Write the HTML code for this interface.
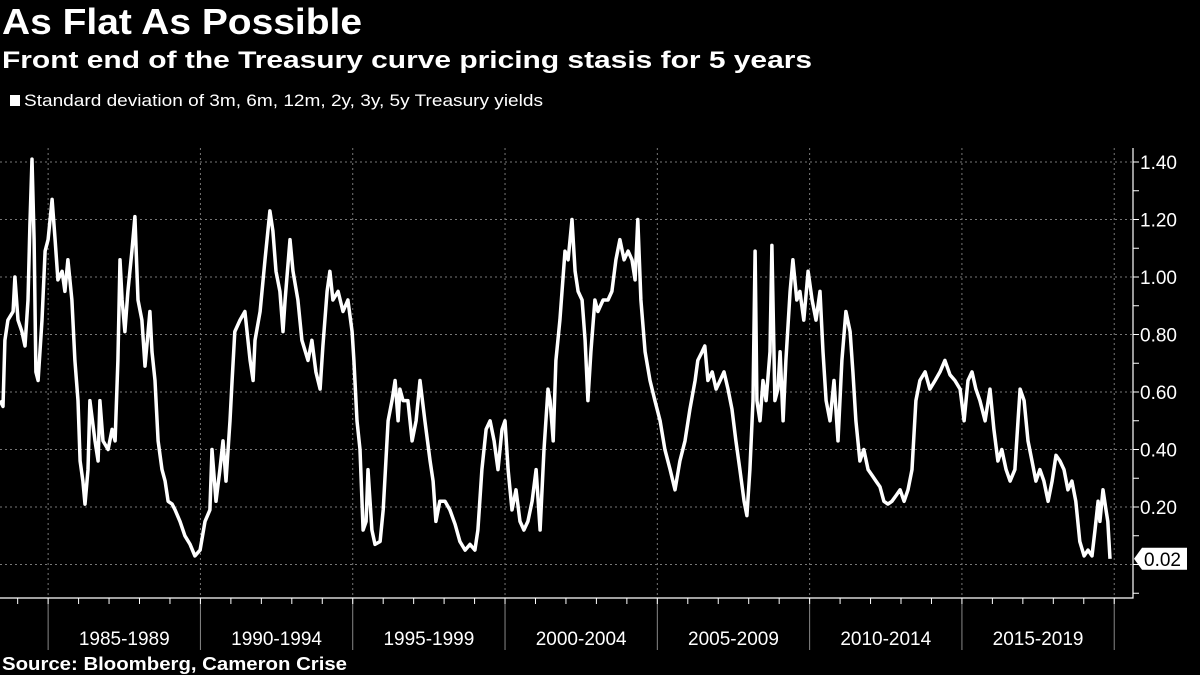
<!DOCTYPE html>
<html><head><meta charset="utf-8"><style>
html,body{margin:0;padding:0;background:#000;width:1200px;height:675px;overflow:hidden}
svg{display:block}
text{font-family:"Liberation Sans",sans-serif;fill:#fff}
</style></head><body>
<svg id="chart" width="1200" height="675">
<text x="2" y="34" font-size="36" font-weight="bold" textLength="360" lengthAdjust="spacingAndGlyphs">As Flat As Possible</text>
<text x="2" y="68" font-size="24" font-weight="bold" textLength="810" lengthAdjust="spacingAndGlyphs">Front end of the Treasury curve pricing stasis for 5 years</text>
<rect x="10" y="95" width="10" height="11" fill="#fff"/>
<text x="24" y="106" font-size="17" textLength="519" lengthAdjust="spacingAndGlyphs">Standard deviation of 3m, 6m, 12m, 2y, 3y, 5y Treasury yields</text>
<g id="grid"></g><g id="axes"></g><g id="series"></g>
<text x="2" y="670" font-size="18" font-weight="bold" textLength="345" lengthAdjust="spacingAndGlyphs">Source: Bloomberg, Cameron Crise</text>
</svg>
<script>
const dates=[1983.42,1983.52,1983.58,1983.68,1983.85,1983.91,1984.01,1984.14,1984.24,1984.34,1984.40,1984.47,1984.54,1984.60,1984.67,1984.80,1984.90,1985.00,1985.13,1985.23,1985.32,1985.46,1985.55,1985.65,1985.78,1985.88,1985.98,1986.05,1986.14,1986.21,1986.31,1986.37,1986.54,1986.64,1986.70,1986.80,1986.97,1987.10,1987.20,1987.29,1987.36,1987.43,1987.52,1987.62,1987.75,1987.85,1987.95,1988.08,1988.18,1988.34,1988.41,1988.51,1988.61,1988.74,1988.84,1988.94,1989.07,1989.17,1989.33,1989.49,1989.66,1989.82,1989.99,1990.15,1990.31,1990.38,1990.51,1990.64,1990.74,1990.84,1990.97,1991.04,1991.13,1991.30,1991.46,1991.63,1991.73,1991.79,1991.96,1992.12,1992.28,1992.38,1992.48,1992.61,1992.71,1992.78,1992.94,1993.04,1993.20,1993.33,1993.53,1993.66,1993.79,1993.93,1994.02,1994.16,1994.25,1994.35,1994.52,1994.68,1994.84,1994.98,1995.04,1995.14,1995.24,1995.34,1995.44,1995.50,1995.63,1995.73,1995.90,1996.00,1996.09,1996.16,1996.29,1996.39,1996.49,1996.55,1996.65,1996.81,1996.95,1997.08,1997.21,1997.37,1997.54,1997.64,1997.73,1997.86,1998.03,1998.19,1998.36,1998.52,1998.69,1998.85,1999.01,1999.11,1999.24,1999.38,1999.51,1999.64,1999.77,1999.90,2000.00,2000.10,2000.23,2000.36,2000.49,2000.62,2000.75,2000.89,2001.02,2001.15,2001.28,2001.41,2001.48,2001.58,2001.67,2001.80,2001.97,2002.07,2002.20,2002.30,2002.40,2002.53,2002.63,2002.72,2002.82,2002.95,2003.05,2003.22,2003.38,2003.51,2003.64,2003.77,2003.91,2004.04,2004.17,2004.27,2004.36,2004.46,2004.60,2004.76,2004.92,2005.09,2005.25,2005.42,2005.58,2005.74,2005.91,2006.07,2006.24,2006.33,2006.47,2006.56,2006.66,2006.80,2006.93,2007.06,2007.19,2007.32,2007.45,2007.58,2007.71,2007.85,2007.94,2008.04,2008.14,2008.21,2008.27,2008.37,2008.47,2008.57,2008.70,2008.76,2008.86,2008.96,2009.03,2009.13,2009.22,2009.36,2009.45,2009.58,2009.68,2009.81,2009.95,2010.08,2010.21,2010.34,2010.44,2010.54,2010.67,2010.80,2010.93,2011.06,2011.19,2011.33,2011.42,2011.52,2011.65,2011.78,2011.92,2012.05,2012.18,2012.31,2012.44,2012.57,2012.70,2012.84,2012.97,2013.10,2013.23,2013.36,2013.49,2013.62,2013.79,2013.95,2014.12,2014.28,2014.44,2014.61,2014.77,2014.94,2015.07,2015.20,2015.33,2015.46,2015.59,2015.76,2015.92,2016.05,2016.18,2016.31,2016.45,2016.58,2016.74,2016.84,2016.91,2017.04,2017.17,2017.30,2017.43,2017.56,2017.69,2017.83,2017.96,2018.09,2018.22,2018.35,2018.48,2018.61,2018.74,2018.87,2019.01,2019.14,2019.27,2019.37,2019.47,2019.53,2019.63,2019.73,2019.79,2019.86];
const values=[0.57,0.55,0.78,0.85,0.88,1.00,0.85,0.81,0.76,0.92,1.18,1.41,1.13,0.67,0.64,0.85,1.09,1.13,1.27,1.13,0.99,1.02,0.95,1.06,0.92,0.71,0.57,0.36,0.29,0.21,0.33,0.57,0.43,0.36,0.57,0.43,0.40,0.47,0.43,0.71,1.06,0.92,0.81,0.95,1.09,1.21,0.92,0.85,0.69,0.88,0.74,0.64,0.43,0.33,0.29,0.22,0.21,0.19,0.15,0.10,0.07,0.03,0.05,0.15,0.19,0.40,0.22,0.33,0.43,0.29,0.50,0.64,0.81,0.85,0.88,0.71,0.64,0.78,0.88,1.06,1.23,1.16,1.02,0.95,0.81,0.92,1.13,1.02,0.92,0.78,0.71,0.78,0.67,0.61,0.76,0.95,1.02,0.92,0.95,0.88,0.92,0.81,0.71,0.50,0.40,0.12,0.15,0.33,0.12,0.07,0.08,0.19,0.36,0.50,0.57,0.64,0.50,0.61,0.57,0.57,0.43,0.50,0.64,0.50,0.36,0.29,0.15,0.22,0.22,0.19,0.14,0.08,0.05,0.07,0.05,0.12,0.33,0.47,0.50,0.43,0.33,0.47,0.50,0.33,0.19,0.26,0.15,0.12,0.15,0.22,0.33,0.12,0.40,0.61,0.57,0.43,0.71,0.85,1.09,1.06,1.20,1.02,0.95,0.92,0.78,0.57,0.74,0.92,0.88,0.92,0.92,0.95,1.06,1.13,1.06,1.09,1.06,0.99,1.20,0.92,0.74,0.64,0.57,0.50,0.40,0.33,0.26,0.36,0.43,0.54,0.64,0.71,0.74,0.76,0.64,0.67,0.61,0.64,0.67,0.61,0.54,0.43,0.33,0.22,0.17,0.33,0.57,1.09,0.57,0.50,0.64,0.57,0.74,1.11,0.57,0.61,0.74,0.50,0.71,0.95,1.06,0.92,0.95,0.85,1.02,0.92,0.85,0.95,0.74,0.57,0.50,0.64,0.43,0.71,0.88,0.81,0.67,0.50,0.36,0.40,0.33,0.31,0.29,0.27,0.22,0.21,0.22,0.24,0.26,0.22,0.26,0.33,0.57,0.64,0.67,0.61,0.64,0.67,0.71,0.66,0.64,0.61,0.50,0.64,0.67,0.61,0.57,0.50,0.61,0.47,0.36,0.40,0.33,0.29,0.33,0.50,0.61,0.57,0.43,0.36,0.29,0.33,0.29,0.22,0.29,0.38,0.36,0.33,0.26,0.29,0.22,0.08,0.03,0.05,0.03,0.12,0.22,0.15,0.26,0.19,0.15,0.02];
const yTicks=[0,0.2,0.4,0.6,0.8,1.0,1.2,1.4];
const xLabels=["1985-1989","1990-1994","1995-1999","2000-2004","2005-2009","2010-2014","2015-2019"];
const lastLabel="0.02";

const NS="http://www.w3.org/2000/svg";
const X0=1983.42, PXY=30.46, Y0=564.5, PXV=287.5, AXX=1133, AXB=598;
const xs=d=>(d-X0)*PXY;
const ys=v=>Y0-v*PXV;
function mk(tag,attrs,parent){const e=document.createElementNS(NS,tag);for(const k in attrs)e.setAttribute(k,attrs[k]);parent.appendChild(e);return e;}
const grid=document.getElementById('grid'),axes=document.getElementById('axes'),ser=document.getElementById('series');

yTicks.forEach(v=>{
  const l=mk('line',{x1:0,x2:AXX,y1:ys(v),y2:ys(v),stroke:'#777','stroke-width':1,'stroke-dasharray':'2,3'},grid);
  
  
  if(v>0){
    const t=mk('text',{x:AXX+7,y:ys(v)+7,'font-size':19},axes);
    t.textContent=v.toFixed(2);
    
    
  }
});
for(let i=-1;i<=14;i++){
  const v=i/10;
  const tk=mk('line',{x1:AXX,x2:AXX+6,y1:ys(v),y2:ys(v),stroke:'#fff','stroke-width':1},axes);
  
  
}
for(let yr=1985;yr<=2020;yr+=5){
  const g=mk('line',{x1:xs(yr),x2:xs(yr),y1:148,y2:AXB,stroke:'#777','stroke-width':1,'stroke-dasharray':'2,3'},grid);
  
  
  const mt=mk('line',{x1:xs(yr),x2:xs(yr),y1:AXB,y2:650,stroke:'#888','stroke-width':1},axes);
  
  
}
for(let yr=1984;yr<=2020;yr++){
  const t=mk('line',{x1:xs(yr),x2:xs(yr),y1:AXB,y2:AXB+6,stroke:'#fff','stroke-width':1},axes);
  
  
}
xLabels.forEach((s,i)=>{
  const t=mk('text',{x:xs(1987.5+5*i),y:645,'font-size':19,'text-anchor':'middle'},axes);
  t.textContent=s;
  
  
});
const ax=mk('path',{d:`M${AXX},148 V${AXB} H0`,stroke:'#fff','stroke-width':1.2,fill:'none'},axes);



const d=dates.map((t,i)=>(i?'L':'M')+xs(t).toFixed(1)+','+ys(values[i]).toFixed(1)).join(' ');
const line=mk('path',{d:d,stroke:'#fff','stroke-width':3.5,fill:'none','stroke-linejoin':'round'},ser);



const lv=values[values.length-1], ly=ys(lv);
const box=mk('path',{d:`M${AXX+1},${ly} L${AXX+9},${ly-11} H1187 V${ly+11} H${AXX+9} Z`,fill:'#fff'},axes);


const lt=mk('text',{x:AXX+11,y:ly+7,'font-size':19,style:'fill:#000'},axes);
lt.textContent=lastLabel;


</script>
</body></html>
